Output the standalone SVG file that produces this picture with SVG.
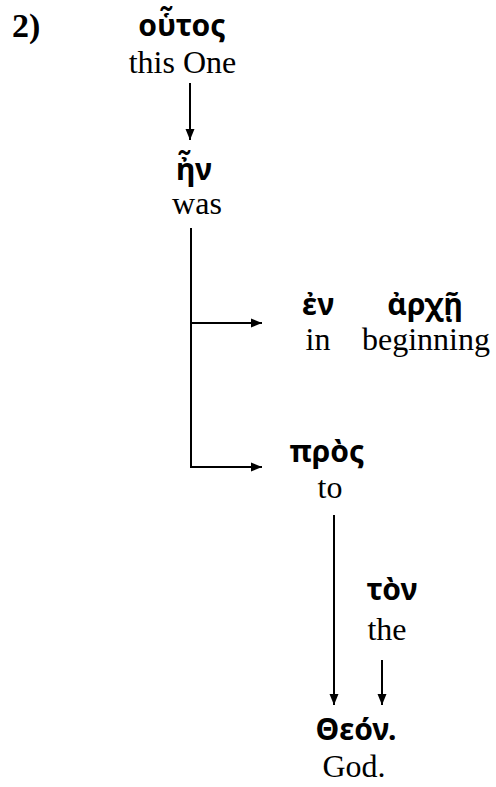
<svg xmlns="http://www.w3.org/2000/svg" width="496" height="787" viewBox="0 0 496 787">
<defs>
<marker id="ah" markerUnits="userSpaceOnUse" markerWidth="12" markerHeight="10" refX="11" refY="5" orient="auto">
<path d="M0,0.5 L11,5 L0,9.5 Z" fill="#000"/>
</marker>
<style>
.gk{font-family:"Noto Sans","DejaVu Sans",sans-serif;font-weight:bold;font-size:30px;fill:#000;text-anchor:middle}
.en{font-family:"Liberation Serif","Times New Roman",serif;font-size:32px;fill:#000;text-anchor:middle}
.num{font-family:"Liberation Serif","Times New Roman",serif;font-size:34px;font-weight:bold;fill:#000}
.ln{stroke:#000;stroke-width:2;fill:none}
.ar{stroke:#000;stroke-width:2;fill:none;marker-end:url(#ah)}
</style>
</defs>
<rect width="496" height="787" fill="#fff"/>
<text class="num" x="12" y="37">2)</text>
<g id="houtos"><text class="gk" x="182" y="36">οὗτος</text><text class="en" x="182.5" y="73">this One</text></g>
<g id="en"><text class="gk" x="194" y="180">ἦν</text><text class="en" x="197" y="214">was</text></g>
<g id="en-arche"><text class="gk" x="318" y="315">ἐν</text><text class="gk" x="425" y="315">ἀρχῇ</text><text class="en" x="318" y="350">in</text><text class="en" x="426" y="350">beginning</text></g>
<g id="pros"><text class="gk" x="327" y="462">πρὸς</text><text class="en" x="330" y="498">to</text></g>
<g id="ton"><text class="gk" x="392" y="600">τὸν</text><text class="en" x="387" y="640">the</text></g>
<g id="theon"><text class="gk" x="356" y="740">Θεόν.</text><text class="en" x="354" y="777">God.</text></g>
<g id="connectors">
<line class="ar" x1="190" y1="83" x2="190" y2="140"/>
<polyline class="ln" points="191,228 191,467"/>
<line class="ar" x1="190" y1="323" x2="262" y2="323"/>
<line class="ar" x1="190" y1="467" x2="262" y2="467"/>
<line class="ar" x1="334" y1="515" x2="334" y2="705"/>
<line class="ar" x1="382" y1="660" x2="382" y2="705"/>
</g>
</svg>
